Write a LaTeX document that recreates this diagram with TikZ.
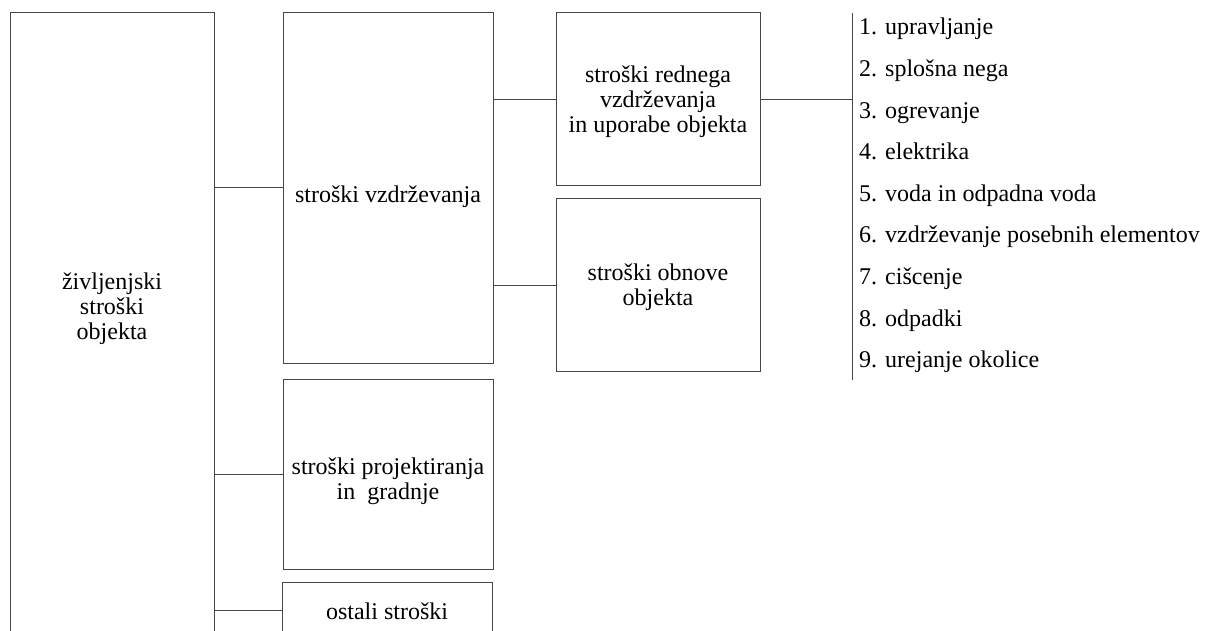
\documentclass[tikz,border=0pt]{standalone}
\usepackage{fontspec}
\setmainfont{Liberation Serif}
\begin{document}
\begin{tikzpicture}[x=1pt,y=-1pt,
  box/.style={draw=black!72, line width=1pt, anchor=north west, inner sep=0pt, outer sep=0pt},
  lbl/.style={align=center, font=\fontsize{24}{25}\selectfont, inner sep=0pt},
  item/.style={anchor=base west, font=\fontsize{24}{25}\selectfont, inner sep=0pt},
  link/.style={draw=black!72, line width=1pt}]
\useasboundingbox (0,0) rectangle (1205,631);
\clip (0,0) rectangle (1205,631);

% boxes
\node[box, minimum width=204pt, minimum height=700pt] (total) at (10,13) {};
\node[box, minimum width=210pt, minimum height=350pt] (vz) at (283,13) {};
\node[box, minimum width=210pt, minimum height=190pt] (proj) at (283,379) {};
\node[box, minimum width=210pt, minimum height=56pt] (ost) at (282,582) {};
\node[box, minimum width=204pt, minimum height=173pt] (red) at (556,13) {};
\node[box, minimum width=204pt, minimum height=172pt] (obn) at (556,199) {};

% box texts
\node[lbl] (totaltxt) at (112,309) {življenjski\\stroški\\objekta};
\node[lbl] (vztxt) at (388,197) {stroški vzdrževanja};
\node[lbl] (redtxt) at (658,102) {stroški rednega\\vzdrževanja\\in uporabe objekta};
\node[lbl] (obntxt) at (658,287) {stroški obnove\\objekta};
\node[lbl] (projtxt) at (388,481) {stroški projektiranja\\in\ \ gradnje};
\node[lbl] (osttxt) at (387,611) {ostali stroški};

% list bar
\coordinate (bartop) at (852,13);
\coordinate (barbot) at (852,380);
\draw[link] (bartop) -- (barbot);

% list items
\foreach \t [count=\i] in {upravljanje, splošna nega, ogrevanje, elektrika,
    voda in odpadna voda, vzdrževanje posebnih elementov, cišcenje,
    odpadki, urejanje okolice}
  \node[item] (it\i) at (859, {35+41.6*(\i-1)}) {\i. \t};

% connectors
\draw[link] (total.east |- vz.west) -- (vz.west);
\draw[link] (total.east |- proj.west) -- (proj.west);
\draw[link] (total.east |- ost.west) -- (ost.west);
\draw[link] (vz.east |- red.west) -- (red.west);
\draw[link] (vz.east |- obn.west) -- (obn.west);
\draw[link] (red.east) -- (red.east -| bartop);
\end{tikzpicture}
\end{document}
